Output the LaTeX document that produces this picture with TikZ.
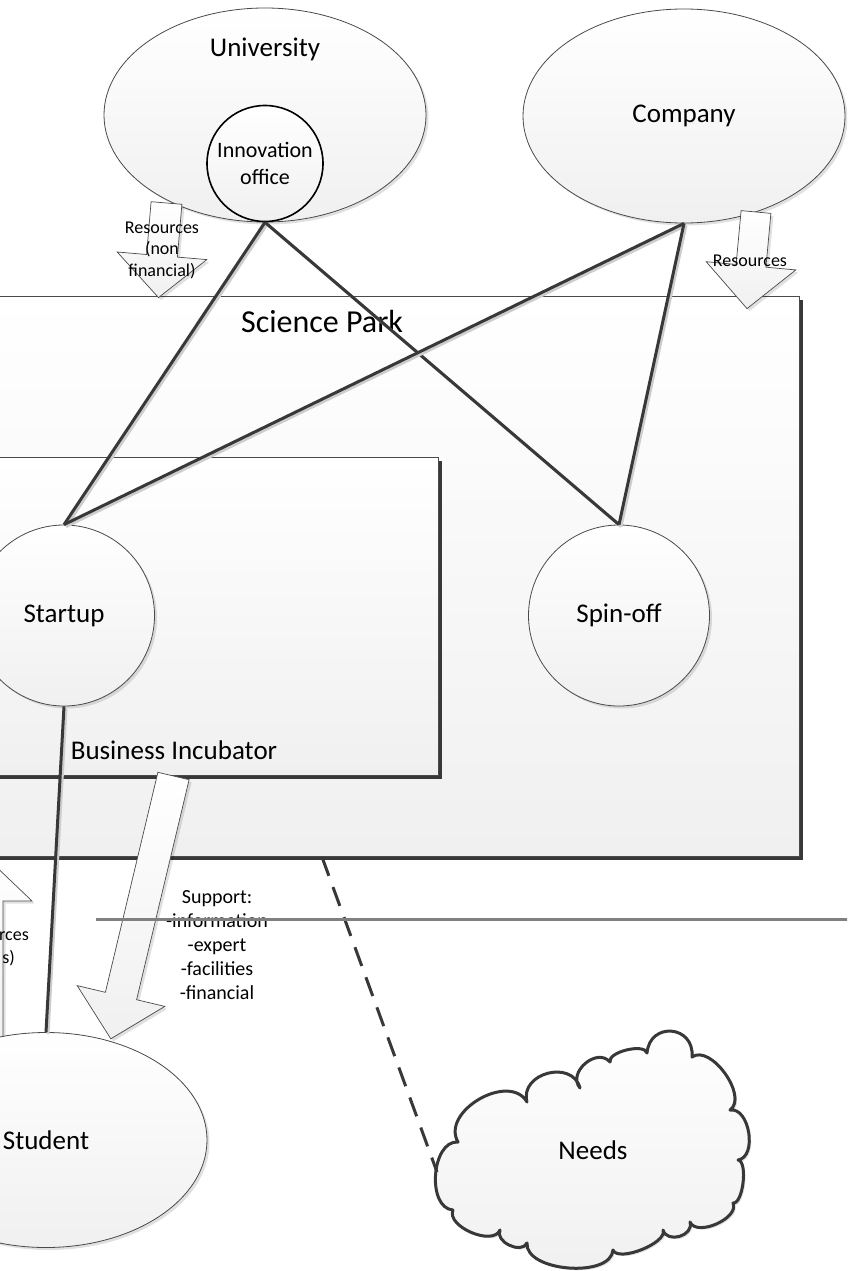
\documentclass[tikz,border=0pt]{standalone}
\usepackage{fontspec}
\setmainfont{Carlito}
\usetikzlibrary{shapes.geometric,shadows}
\definecolor{lineC}{HTML}{383838}
\definecolor{outl}{HTML}{4A4A4A}
\definecolor{fillB}{HTML}{F0F0F0}
\definecolor{shC}{HTML}{CDCDCD}
\definecolor{hlC}{HTML}{808080}
\begin{document}
\begin{tikzpicture}[x=1pt,y=-1pt,
  bigfont/.style={font=\fontsize{27}{32}\selectfont},
  ell/.style={ellipse, draw=outl, line width=0.8pt, top color=white, bottom color=fillB, inner sep=0pt,
    drop shadow={shadow xshift=2.5pt,shadow yshift=-2.5pt,fill=black,opacity=0.12}, bigfont},
  circ/.style={circle, draw=outl, line width=0.8pt, top color=white, bottom color=fillB, inner sep=0pt,
    minimum size=181pt, drop shadow={shadow xshift=2.5pt,shadow yshift=-2.5pt,fill=black,opacity=0.12}, bigfont},
  box/.style={draw=outl, line width=0.8pt, top color=white, bottom color=fillB},
  boxsh/.style={fill=black!78},
  barrow/.style={draw=outl, line width=0.7pt, top color=white, bottom color=fillB,
    drop shadow={shadow xshift=2.5pt,shadow yshift=-2.5pt,fill=black,opacity=0.12}},
  cloudsh/.style={draw=lineC, line width=3pt, line join=round, top color=white, bottom color=fillB,
    drop shadow={shadow xshift=2pt,shadow yshift=-2pt,fill=black,opacity=0.12}},
  conn/.style={draw=lineC, line width=3pt, preaction={draw=shC, line width=3pt, transform canvas={shift={(2pt,-2pt)}}}},
  dashconn/.style={draw=lineC, line width=3pt, dash pattern=on 20pt off 12pt},
  hline/.style={draw=hlC, line width=3pt},
  txt/.style={inner sep=0pt, bigfont},
  smalltxt/.style={inner sep=0pt, align=center, font=\fontsize{18}{21.5}\selectfont},
  midtxt/.style={inner sep=0pt, align=center, font=\fontsize{20}{24}\selectfont}
]
\useasboundingbox (0,0) rectangle (847,1271);
\clip (0,0) rectangle (847,1271);

% Science Park
\path[boxsh] (-56,300) rectangle (803,860);
\path[box] (-60,296) rectangle (799,856);
\node[inner sep=0pt, font=\fontsize{32}{38}\selectfont] (sptxt) at (322,322) {Science Park};

% Business Incubator
\path[boxsh] (-56,461) rectangle (442,779);
\path[box] (-60,457) rectangle (438,775);
\node[txt] (bitxt) at (174,750) {Business Incubator};

% Startup and Spin-off
\node[circ] (startup) at (64,615.5) {Startup};
\node[circ] (spinoff) at (619,615.5) {Spin-off};

% left partial arrow (pointing up)
\path[barrow] (-13,858) -- (32,901) -- (3,901) -- (3,1045) -- (-29,1045) -- (-29,901) -- (-58,901) -- cycle;
\node[smalltxt, anchor=east] (lt1) at (29,936) {rces};
\node[smalltxt, anchor=east] (lt2) at (15,958) {s)};

% University and Company
\node[ell, minimum width=322pt, minimum height=214pt] (univ) at (265,115) {};
\node[txt] (univtxt) at (265,49) {University};
\node[circle, draw=black, line width=1.6pt, top color=white, bottom color=fillB, inner sep=0pt,
  minimum size=116pt, align=center, font=\fontsize{22}{27}\selectfont] (innov) at (265,163.5) {Innovation\\office};
\node[ell, minimum width=322pt, minimum height=214pt] (company) at (684,116) {Company};

% Student
\node[ell, minimum width=322pt, minimum height=215pt] (student) at (46,1140) {Student};

% block arrows
\path[barrow] (151.1,201.7) -- (181.9,204.3) -- (177.4,257.1) -- (206.8,259.6) -- (158.5,297.6) -- (117.2,252) -- (146.6,254.5) -- cycle;
\node[smalltxt] (restxt1) at (162,250) {Resources\\(non\\financial)};

\path[barrow] (741.1,210.6) -- (770.9,213.4) -- (765.9,267.2) -- (795.8,269.9) -- (747,308.6) -- (706.2,261.7) -- (736.1,264.4) -- cycle;
\node[smalltxt] (restxt2) at (750,261) {Resources};

\path[barrow] (157.9,772.3) -- (189.1,779.7) -- (136.6,999.7) -- (164.8,1006.4) -- (110.8,1038.8) -- (77.2,985.6) -- (105.4,992.3) -- cycle;
\node[midtxt] (suptxt) at (217,945) {Support:\\-information\\-expert\\-facilities\\-financial};

% Needs cloud
\path[cloudsh] (458,1142)
  .. controls (440.3,1111.5) and (509.3,1071.5) .. (527,1102)
  .. controls (519.3,1073) and (572.3,1059) .. (580,1088)
  .. controls (566.8,1072.7) and (596.8,1046.7) .. (610,1062)
  .. controls (607.5,1051.9) and (644.5,1042.9) .. (647,1053)
  .. controls (649.8,1021.2) and (694.8,1025.2) .. (692,1057)
  .. controls (710.7,1043.6) and (748.7,1096.6) .. (730,1110)
  .. controls (749.6,1106.9) and (757.6,1156.9) .. (738,1160)
  .. controls (748.1,1161.2) and (743.1,1204.2) .. (733,1203)
  .. controls (739.7,1218.2) and (696.7,1237.2) .. (690,1222)
  .. controls (694.1,1235.8) and (667.1,1243.8) .. (663,1230)
  .. controls (668.1,1242.7) and (618.1,1262.7) .. (613,1250)
  .. controls (610.7,1278.6) and (524.7,1271.6) .. (527,1243)
  .. controls (521.4,1254.6) and (494.4,1241.6) .. (500,1230)
  .. controls (493,1246.6) and (446,1226.6) .. (453,1210)
  .. controls (426.4,1208.1) and (431.4,1140.1) .. (458,1142) -- cycle;
\node[txt] (needs) at (593,1150) {Needs};
\coordinate (needsedge) at (437,1172);

% connectors
\draw[conn] (innov.south) -- (startup.north);
\draw[conn] (innov.south) -- (spinoff.north);
\draw[conn] (company.south) -- (startup.north);
\draw[conn] (company.south) -- (spinoff.north);
\draw[conn] (startup.south) -- (student.north);
\coordinate (spbot) at (322,857);
\draw[dashconn] (spbot) -- (needsedge);

% horizontal gray line
\coordinate (hl1) at (96,919);
\coordinate (hl2) at (850,919);
\draw[hline] (hl1) -- (hl2);
\end{tikzpicture}
\end{document}
